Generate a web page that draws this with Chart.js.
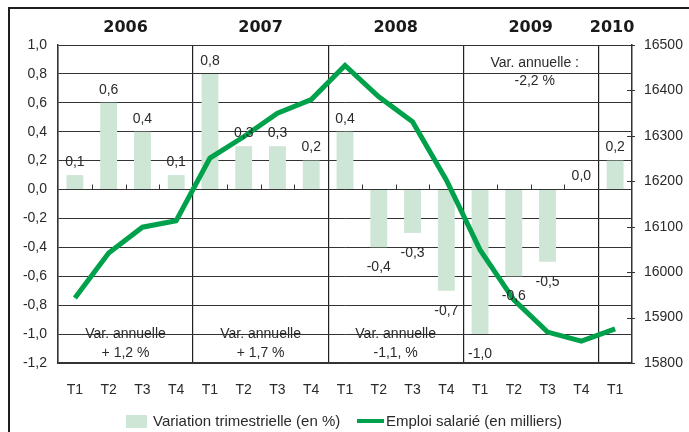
<!DOCTYPE html>
<html>
<head>
<meta charset="utf-8">
<style>
  html, body { margin: 0; padding: 0; background: #fff; }
</style>
<script src="https://cdn.jsdelivr.net/npm/chart.js@4/dist/chart.umd.min.js"></script>
</head>
<body>
<canvas id="chart" width="689" height="432"></canvas>
<script>
const years = ['2006', '2007', '2008', '2009', '2010'];
const quarters = ['T1', 'T2', 'T3', 'T4', 'T1', 'T2', 'T3', 'T4', 'T1', 'T2', 'T3', 'T4', 'T1', 'T2', 'T3', 'T4', 'T1'];
const quarterlyChange = [0.1, 0.6, 0.4, 0.1, 0.8, 0.3, 0.3, 0.2, 0.4, -0.4, -0.3, -0.7, -1.0, -0.6, -0.5, 0.0, 0.2];
const employment = [15943, 16042, 16099, 16113, 16251, 16298, 16350, 16380, 16455, 16386, 16331, 16203, 16049, 15939, 15868, 15848, 15875];
const annualNotes = [
  ['Var. annuelle', '+ 1,2 %'],
  ['Var. annuelle', '+ 1,7 %'],
  ['Var. annuelle', '-1,1, %'],
  ['Var. annuelle :', '-2,2 %']
];

const BAR_COLOR = '#cde6d6';
const LINE_COLOR = '#00a14b';
const TEXT_COLOR = '#2a2a2a';
const FONT = '"Liberation Sans", Arial, sans-serif';

function formatPct(v) {
  return v.toFixed(1).replace('.', ',');
}

// labels, year headers, notes, legend and frame drawn on top of the chart
const decorations = {
  id: 'decorations',
  afterDraw(chart) {
    const { ctx, chartArea, scales } = chart;
    const x = scales.x;
    const y = scales.y;
    const y2 = scales.y2;
    const step = x.width / quarters.length;
    const zeroY = y.getPixelForValue(0);

    ctx.save();

    // small ticks on the zero line between quarters
    ctx.strokeStyle = '#333';
    ctx.lineWidth = 1;
    for (let i = 1; i < quarters.length; i++) {
      if (i % 4 === 0) continue;
      const px = Math.round(x.left + i * step) + 0.5;
      ctx.beginPath();
      ctx.moveTo(px, zeroY);
      ctx.lineTo(px, zeroY - 5);
      ctx.stroke();
    }

    // right axis ticks
    y2.ticks.forEach((tick) => {
      const py = Math.round(y2.getPixelForValue(tick.value)) + 0.5;
      ctx.beginPath();
      ctx.moveTo(chartArea.right - 5, py);
      ctx.lineTo(chartArea.right + 3, py);
      ctx.stroke();
    });

    // bar value labels
    ctx.font = '14px ' + FONT;
    ctx.fillStyle = TEXT_COLOR;
    ctx.textAlign = 'center';
    ctx.textBaseline = 'middle';
    const bars = chart.getDatasetMeta(0).data;
    bars.forEach((bar, i) => {
      const v = quarterlyChange[i];
      const py = v >= 0 ? bar.y - 13 : bar.y + 20;
      ctx.fillText(formatPct(v), bar.x, py);
    });

    // year headers
    ctx.font = 'bold 16px "DejaVu Sans", Verdana, sans-serif';
    ctx.fillStyle = '#1a1a1a';
    years.forEach((yr, i) => {
      const start = x.left + i * 4 * step;
      const end = Math.min(x.left + (i + 1) * 4 * step, chartArea.right);
      let cx = (start + end) / 2;
      if (i === 4) cx -= 3;
      ctx.fillText(yr, cx, 28);
    });

    // annual change notes
    ctx.font = '14px ' + FONT;
    ctx.fillStyle = TEXT_COLOR;
    annualNotes.forEach((note, i) => {
      const cx = x.left + (i * 4 + 2) * step;
      if (i < 3) {
        ctx.fillText(note[0], cx, 334);
        ctx.fillText(note[1], cx, 353);
      } else {
        ctx.fillText(note[0], cx + 4, 63);
        ctx.fillText(note[1], cx + 4, 81);
      }
    });

    // legend
    const ds = chart.data.datasets;
    ctx.font = '15px ' + FONT;
    ctx.textAlign = 'left';
    ctx.fillStyle = BAR_COLOR;
    ctx.fillRect(126, 415, 21, 13);
    ctx.fillStyle = TEXT_COLOR;
    ctx.fillText(ds[0].label, 153, 422);
    ctx.strokeStyle = LINE_COLOR;
    ctx.lineWidth = 4;
    ctx.beginPath();
    ctx.moveTo(357, 421);
    ctx.lineTo(384, 421);
    ctx.stroke();
    ctx.fillText(ds[1].label, 386, 422);

    // outer frame
    ctx.fillStyle = '#1e1e1e';
    ctx.fillRect(8, 7, 681, 2);
    ctx.fillRect(8, 7, 2, 425);

    ctx.restore();
  }
};

new Chart(document.getElementById('chart'), {
  data: {
    labels: quarters,
    datasets: [
      {
        type: 'bar',
        label: 'Variation trimestrielle (en %)',
        data: quarterlyChange,
        backgroundColor: BAR_COLOR,
        borderWidth: 0,
        barPercentage: 0.5,
        categoryPercentage: 1.0,
        yAxisID: 'y',
        order: 1
      },
      {
        type: 'line',
        label: 'Emploi salarié (en milliers)',
        data: employment,
        borderColor: LINE_COLOR,
        backgroundColor: LINE_COLOR,
        borderWidth: 5,
        borderCapStyle: 'butt',
        borderJoinStyle: 'miter',
        pointRadius: 0,
        tension: 0,
        yAxisID: 'y2',
        order: 0
      }
    ]
  },
  options: {
    responsive: false,
    animation: false,
    devicePixelRatio: 1,
    layout: { padding: { top: 45, left: 0, right: 0, bottom: 0 } },
    plugins: {
      legend: { display: false },
      tooltip: { enabled: false }
    },
    scales: {
      x: {
        offset: true,
        grid: {
          offset: true,
          drawTicks: false,
          color: (c) => (c.index % 4 === 0 ? '#222' : 'rgba(0,0,0,0)'),
          lineWidth: 1.2
        },
        border: { display: true, color: '#333', width: 1.5 },
        ticks: {
          color: TEXT_COLOR,
          font: { family: FONT, size: 14 },
          padding: 19,
          maxRotation: 0,
          autoSkip: false
        },
        afterFit(scale) { scale.height = 69; }
      },
      y: {
        position: 'left',
        min: -1.2,
        max: 1.0,
        grid: { color: '#333', lineWidth: 1, drawTicks: false },
        border: { display: true, color: '#333', width: 1.5 },
        ticks: {
          stepSize: 0.2,
          color: TEXT_COLOR,
          font: { family: FONT, size: 14 },
          padding: 11,
          callback: (v) => formatPct(Math.round(v * 10) / 10)
        },
        afterFit(scale) { scale.width = 58; }
      },
      y2: {
        position: 'right',
        min: 15800,
        max: 16500,
        grid: { drawOnChartArea: false, drawTicks: false },
        border: { display: true, color: '#333', width: 1.5 },
        ticks: {
          stepSize: 100,
          color: TEXT_COLOR,
          font: { family: FONT, size: 14 },
          padding: 12,
          callback: (v) => String(v)
        },
        afterFit(scale) { scale.width = 57; }
      }
    }
  },
  plugins: [decorations]
});
</script>
</body>
</html>
